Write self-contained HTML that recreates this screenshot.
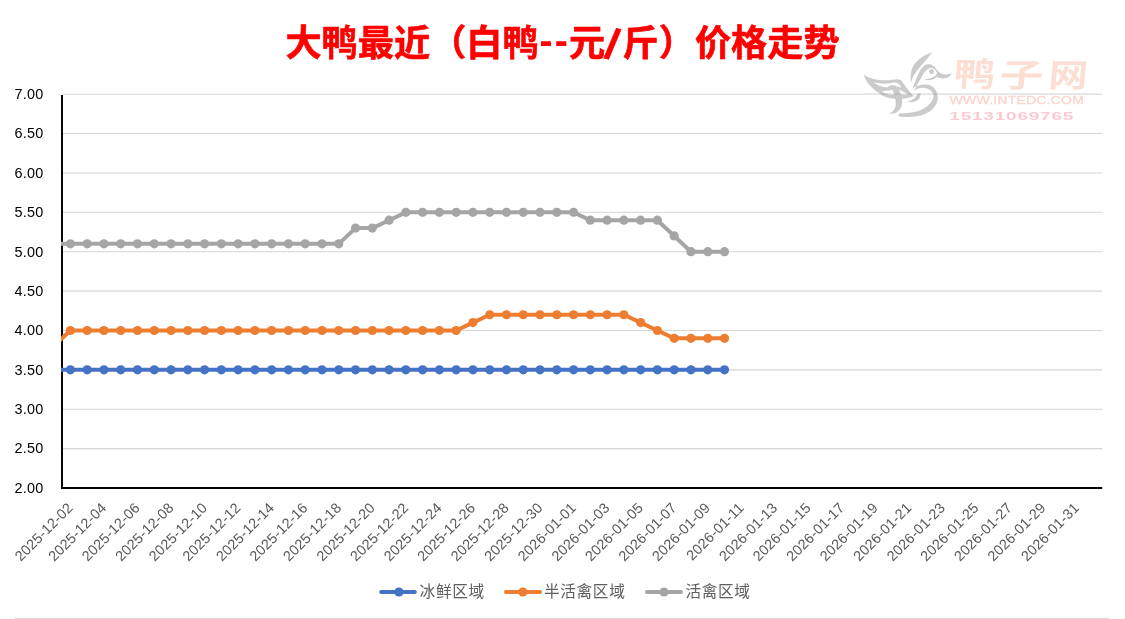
<!DOCTYPE html>
<html lang="zh-CN"><head><meta charset="utf-8"><title>大鸭最近（白鸭--元/斤）价格走势</title>
<style>html,body{margin:0;padding:0;background:#fff}body{width:1125px;height:619px;overflow:hidden}svg{display:block}.yl{font-family:"Liberation Sans",sans-serif;font-size:14.4px;fill:#000;letter-spacing:0.3px}.xl{font-family:"Liberation Sans",sans-serif;font-size:14.4px;fill:#595959;letter-spacing:0.15px}.lg{font-family:"Liberation Sans","Noto Sans CJK SC",sans-serif;font-size:15.7px;fill:#5e5e5e;letter-spacing:0.6px}.tt{font-family:"Liberation Sans","Noto Sans CJK SC",sans-serif;font-weight:bold;font-size:36.2px;fill:#ff0000}</style></head><body>
<svg width="1125" height="619" viewBox="0 0 1125 619">
<rect width="1125" height="619" fill="#fff"/>
<line x1="62.0" x2="1102.2" y1="448.62" y2="448.62" stroke="#d6d6d6" stroke-width="1.05"/>
<line x1="62.0" x2="1102.2" y1="409.24" y2="409.24" stroke="#d6d6d6" stroke-width="1.05"/>
<line x1="62.0" x2="1102.2" y1="369.86" y2="369.86" stroke="#d6d6d6" stroke-width="1.05"/>
<line x1="62.0" x2="1102.2" y1="330.48" y2="330.48" stroke="#d6d6d6" stroke-width="1.05"/>
<line x1="62.0" x2="1102.2" y1="291.10" y2="291.10" stroke="#d6d6d6" stroke-width="1.05"/>
<line x1="62.0" x2="1102.2" y1="251.72" y2="251.72" stroke="#d6d6d6" stroke-width="1.05"/>
<line x1="62.0" x2="1102.2" y1="212.34" y2="212.34" stroke="#d6d6d6" stroke-width="1.05"/>
<line x1="62.0" x2="1102.2" y1="172.96" y2="172.96" stroke="#d6d6d6" stroke-width="1.05"/>
<line x1="62.0" x2="1102.2" y1="133.58" y2="133.58" stroke="#d6d6d6" stroke-width="1.05"/>
<line x1="62.0" x2="863" y1="94.20" y2="94.20" stroke="#d6d6d6" stroke-width="1.05"/>
<line x1="863" x2="1093" y1="94.05" y2="94.05" stroke="#bdbdbd" stroke-width="0.7"/>
<line x1="1093" x2="1102.2" y1="94.20" y2="94.20" stroke="#d6d6d6" stroke-width="1.05"/>
<g id="wm">
<g opacity="0.42" fill="#858585">
<g transform="translate(860 70) scale(0.0808)">
<path fill-rule="evenodd" d="M45,55 C100,100 200,128 330,128 C400,126 460,100 505,125 C545,170 600,265 668,325 C600,348 500,362 440,356 C340,350 285,325 255,300 C180,245 80,180 45,55 Z M165,155 C235,200 300,222 345,212 C352,185 440,182 455,205 C475,207 492,212 510,216 C495,168 452,150 405,158 C320,176 250,172 165,155 Z M270,262 C320,260 370,250 405,244 C416,265 422,287 427,306 C375,310 322,298 270,262 Z M482,240 C520,258 557,278 595,300 C557,310 520,310 497,304 C496,280 490,260 482,240 Z"/>
<path d="M400,250 C430,300 450,380 440,450 C425,500 400,525 362,540 C420,548 480,520 510,460 C535,400 520,320 485,255 Z"/>
</g>
<g transform="translate(895 46) scale(0.1227)">
<path d="M305,48 C230,75 150,125 133,205 C126,245 127,280 130,304 C138,268 148,245 160,228 C190,183 250,120 305,48 Z"/>
<path d="M345,200 C330,165 300,146 270,148 C230,150 204,195 182,245 C165,290 150,325 141,352 C175,318 230,308 280,318 C330,335 352,385 348,430 C340,500 280,555 180,572 C120,580 70,578 29,575 L34,550 C90,548 150,542 190,530 C260,505 310,455 314,410 C312,370 280,346 235,340 C200,338 170,348 150,372 C178,330 198,280 222,245 C240,208 265,182 293,180 C315,178 330,194 338,212 C345,222 340,232 332,238 C310,260 270,270 236,270 C275,288 320,272 345,250 C355,258 370,265 395,264 C430,262 455,245 462,220 C445,228 430,232 410,232 C380,232 365,215 345,200 Z"/>
<path d="M207,380 C218,425 180,465 100,457 C145,442 172,420 184,392 Z"/>
<circle cx="298" cy="210" r="20"/>
</g>
</g>
<g opacity="0.27">
<g opacity="0.85" font-family='"Liberation Sans","Noto Sans CJK SC",sans-serif' font-weight="bold" font-size="32.5" fill="#f2703f">
<text transform="translate(952.8 86.3) skewX(-5) scale(1.278 1.02)">鸭</text>
<text transform="translate(998.8 86.5) skewX(-5) scale(1.344 1)">子</text>
<text transform="translate(1047.7 86.7) skewX(-5) scale(1.205 1)">网</text>
</g>
<text transform="translate(949.6 103.8) scale(1.3 1)" font-family='"Liberation Sans",sans-serif' font-size="10.8" fill="#f0603c" stroke="#f0603c" stroke-width="0.3" letter-spacing="0.15">WWW.INTEDC.COM</text>
<text transform="translate(949.3 119.7) scale(1.645 1)" font-family='"Liberation Sans",sans-serif' font-weight="bold" font-size="11.6" fill="#f53a4c" letter-spacing="0.45">15131069765</text>
</g>
</g>

<line x1="62.0" x2="62.0" y1="95" y2="489.1" stroke="#000" stroke-width="1.95"/>
<line x1="61" x2="1102.2" y1="488.0" y2="488.0" stroke="#000" stroke-width="2.0"/>
<text class="yl" x="43.6" y="492.80" text-anchor="end">2.00</text>
<text class="yl" x="43.6" y="453.42" text-anchor="end">2.50</text>
<text class="yl" x="43.6" y="414.04" text-anchor="end">3.00</text>
<text class="yl" x="43.6" y="374.66" text-anchor="end">3.50</text>
<text class="yl" x="43.6" y="335.28" text-anchor="end">4.00</text>
<text class="yl" x="43.6" y="295.90" text-anchor="end">4.50</text>
<text class="yl" x="43.6" y="256.52" text-anchor="end">5.00</text>
<text class="yl" x="43.6" y="217.14" text-anchor="end">5.50</text>
<text class="yl" x="43.6" y="177.76" text-anchor="end">6.00</text>
<text class="yl" x="43.6" y="138.38" text-anchor="end">6.50</text>
<text class="yl" x="43.6" y="99.00" text-anchor="end">7.00</text>
<text class="xl" text-anchor="end" transform="translate(73.80 508.8) rotate(-45)">2025-12-02</text>
<text class="xl" text-anchor="end" transform="translate(107.34 508.8) rotate(-45)">2025-12-04</text>
<text class="xl" text-anchor="end" transform="translate(140.89 508.8) rotate(-45)">2025-12-06</text>
<text class="xl" text-anchor="end" transform="translate(174.43 508.8) rotate(-45)">2025-12-08</text>
<text class="xl" text-anchor="end" transform="translate(207.98 508.8) rotate(-45)">2025-12-10</text>
<text class="xl" text-anchor="end" transform="translate(241.52 508.8) rotate(-45)">2025-12-12</text>
<text class="xl" text-anchor="end" transform="translate(275.06 508.8) rotate(-45)">2025-12-14</text>
<text class="xl" text-anchor="end" transform="translate(308.61 508.8) rotate(-45)">2025-12-16</text>
<text class="xl" text-anchor="end" transform="translate(342.15 508.8) rotate(-45)">2025-12-18</text>
<text class="xl" text-anchor="end" transform="translate(375.70 508.8) rotate(-45)">2025-12-20</text>
<text class="xl" text-anchor="end" transform="translate(409.24 508.8) rotate(-45)">2025-12-22</text>
<text class="xl" text-anchor="end" transform="translate(442.78 508.8) rotate(-45)">2025-12-24</text>
<text class="xl" text-anchor="end" transform="translate(476.33 508.8) rotate(-45)">2025-12-26</text>
<text class="xl" text-anchor="end" transform="translate(509.87 508.8) rotate(-45)">2025-12-28</text>
<text class="xl" text-anchor="end" transform="translate(543.42 508.8) rotate(-45)">2025-12-30</text>
<text class="xl" text-anchor="end" transform="translate(576.96 508.8) rotate(-45)">2026-01-01</text>
<text class="xl" text-anchor="end" transform="translate(610.50 508.8) rotate(-45)">2026-01-03</text>
<text class="xl" text-anchor="end" transform="translate(644.05 508.8) rotate(-45)">2026-01-05</text>
<text class="xl" text-anchor="end" transform="translate(677.59 508.8) rotate(-45)">2026-01-07</text>
<text class="xl" text-anchor="end" transform="translate(711.14 508.8) rotate(-45)">2026-01-09</text>
<text class="xl" text-anchor="end" transform="translate(744.68 508.8) rotate(-45)">2026-01-11</text>
<text class="xl" text-anchor="end" transform="translate(778.22 508.8) rotate(-45)">2026-01-13</text>
<text class="xl" text-anchor="end" transform="translate(811.77 508.8) rotate(-45)">2026-01-15</text>
<text class="xl" text-anchor="end" transform="translate(845.31 508.8) rotate(-45)">2026-01-17</text>
<text class="xl" text-anchor="end" transform="translate(878.86 508.8) rotate(-45)">2026-01-19</text>
<text class="xl" text-anchor="end" transform="translate(912.40 508.8) rotate(-45)">2026-01-21</text>
<text class="xl" text-anchor="end" transform="translate(945.94 508.8) rotate(-45)">2026-01-23</text>
<text class="xl" text-anchor="end" transform="translate(979.49 508.8) rotate(-45)">2026-01-25</text>
<text class="xl" text-anchor="end" transform="translate(1013.03 508.8) rotate(-45)">2026-01-27</text>
<text class="xl" text-anchor="end" transform="translate(1046.58 508.8) rotate(-45)">2026-01-29</text>
<text class="xl" text-anchor="end" transform="translate(1080.12 508.8) rotate(-45)">2026-01-31</text>
<defs><clipPath id="pc"><rect x="60.9" y="80" width="1060" height="420"/></clipPath></defs>
<polyline clip-path="url(#pc)" fill="none" stroke="#4472c4" stroke-width="4" stroke-linejoin="round" stroke-linecap="round" points="53.6,369.86 70.40,369.86 87.17,369.86 103.94,369.86 120.72,369.86 137.49,369.86 154.26,369.86 171.03,369.86 187.80,369.86 204.58,369.86 221.35,369.86 238.12,369.86 254.89,369.86 271.66,369.86 288.44,369.86 305.21,369.86 321.98,369.86 338.75,369.86 355.52,369.86 372.30,369.86 389.07,369.86 405.84,369.86 422.61,369.86 439.38,369.86 456.16,369.86 472.93,369.86 489.70,369.86 506.47,369.86 523.24,369.86 540.02,369.86 556.79,369.86 573.56,369.86 590.33,369.86 607.10,369.86 623.88,369.86 640.65,369.86 657.42,369.86 674.19,369.86 690.96,369.86 707.74,369.86 724.51,369.86"/>
<circle cx="70.40" cy="369.86" r="4.6" fill="#4472c4"/>
<circle cx="87.17" cy="369.86" r="4.6" fill="#4472c4"/>
<circle cx="103.94" cy="369.86" r="4.6" fill="#4472c4"/>
<circle cx="120.72" cy="369.86" r="4.6" fill="#4472c4"/>
<circle cx="137.49" cy="369.86" r="4.6" fill="#4472c4"/>
<circle cx="154.26" cy="369.86" r="4.6" fill="#4472c4"/>
<circle cx="171.03" cy="369.86" r="4.6" fill="#4472c4"/>
<circle cx="187.80" cy="369.86" r="4.6" fill="#4472c4"/>
<circle cx="204.58" cy="369.86" r="4.6" fill="#4472c4"/>
<circle cx="221.35" cy="369.86" r="4.6" fill="#4472c4"/>
<circle cx="238.12" cy="369.86" r="4.6" fill="#4472c4"/>
<circle cx="254.89" cy="369.86" r="4.6" fill="#4472c4"/>
<circle cx="271.66" cy="369.86" r="4.6" fill="#4472c4"/>
<circle cx="288.44" cy="369.86" r="4.6" fill="#4472c4"/>
<circle cx="305.21" cy="369.86" r="4.6" fill="#4472c4"/>
<circle cx="321.98" cy="369.86" r="4.6" fill="#4472c4"/>
<circle cx="338.75" cy="369.86" r="4.6" fill="#4472c4"/>
<circle cx="355.52" cy="369.86" r="4.6" fill="#4472c4"/>
<circle cx="372.30" cy="369.86" r="4.6" fill="#4472c4"/>
<circle cx="389.07" cy="369.86" r="4.6" fill="#4472c4"/>
<circle cx="405.84" cy="369.86" r="4.6" fill="#4472c4"/>
<circle cx="422.61" cy="369.86" r="4.6" fill="#4472c4"/>
<circle cx="439.38" cy="369.86" r="4.6" fill="#4472c4"/>
<circle cx="456.16" cy="369.86" r="4.6" fill="#4472c4"/>
<circle cx="472.93" cy="369.86" r="4.6" fill="#4472c4"/>
<circle cx="489.70" cy="369.86" r="4.6" fill="#4472c4"/>
<circle cx="506.47" cy="369.86" r="4.6" fill="#4472c4"/>
<circle cx="523.24" cy="369.86" r="4.6" fill="#4472c4"/>
<circle cx="540.02" cy="369.86" r="4.6" fill="#4472c4"/>
<circle cx="556.79" cy="369.86" r="4.6" fill="#4472c4"/>
<circle cx="573.56" cy="369.86" r="4.6" fill="#4472c4"/>
<circle cx="590.33" cy="369.86" r="4.6" fill="#4472c4"/>
<circle cx="607.10" cy="369.86" r="4.6" fill="#4472c4"/>
<circle cx="623.88" cy="369.86" r="4.6" fill="#4472c4"/>
<circle cx="640.65" cy="369.86" r="4.6" fill="#4472c4"/>
<circle cx="657.42" cy="369.86" r="4.6" fill="#4472c4"/>
<circle cx="674.19" cy="369.86" r="4.6" fill="#4472c4"/>
<circle cx="690.96" cy="369.86" r="4.6" fill="#4472c4"/>
<circle cx="707.74" cy="369.86" r="4.6" fill="#4472c4"/>
<circle cx="724.51" cy="369.86" r="4.6" fill="#4472c4"/>
<polyline clip-path="url(#pc)" fill="none" stroke="#ed7d31" stroke-width="4" stroke-linejoin="round" stroke-linecap="round" points="53.6,346.23 70.40,330.48 87.17,330.48 103.94,330.48 120.72,330.48 137.49,330.48 154.26,330.48 171.03,330.48 187.80,330.48 204.58,330.48 221.35,330.48 238.12,330.48 254.89,330.48 271.66,330.48 288.44,330.48 305.21,330.48 321.98,330.48 338.75,330.48 355.52,330.48 372.30,330.48 389.07,330.48 405.84,330.48 422.61,330.48 439.38,330.48 456.16,330.48 472.93,322.60 489.70,314.73 506.47,314.73 523.24,314.73 540.02,314.73 556.79,314.73 573.56,314.73 590.33,314.73 607.10,314.73 623.88,314.73 640.65,322.60 657.42,330.48 674.19,338.36 690.96,338.36 707.74,338.36 724.51,338.36"/>
<circle cx="70.40" cy="330.48" r="4.6" fill="#ed7d31"/>
<circle cx="87.17" cy="330.48" r="4.6" fill="#ed7d31"/>
<circle cx="103.94" cy="330.48" r="4.6" fill="#ed7d31"/>
<circle cx="120.72" cy="330.48" r="4.6" fill="#ed7d31"/>
<circle cx="137.49" cy="330.48" r="4.6" fill="#ed7d31"/>
<circle cx="154.26" cy="330.48" r="4.6" fill="#ed7d31"/>
<circle cx="171.03" cy="330.48" r="4.6" fill="#ed7d31"/>
<circle cx="187.80" cy="330.48" r="4.6" fill="#ed7d31"/>
<circle cx="204.58" cy="330.48" r="4.6" fill="#ed7d31"/>
<circle cx="221.35" cy="330.48" r="4.6" fill="#ed7d31"/>
<circle cx="238.12" cy="330.48" r="4.6" fill="#ed7d31"/>
<circle cx="254.89" cy="330.48" r="4.6" fill="#ed7d31"/>
<circle cx="271.66" cy="330.48" r="4.6" fill="#ed7d31"/>
<circle cx="288.44" cy="330.48" r="4.6" fill="#ed7d31"/>
<circle cx="305.21" cy="330.48" r="4.6" fill="#ed7d31"/>
<circle cx="321.98" cy="330.48" r="4.6" fill="#ed7d31"/>
<circle cx="338.75" cy="330.48" r="4.6" fill="#ed7d31"/>
<circle cx="355.52" cy="330.48" r="4.6" fill="#ed7d31"/>
<circle cx="372.30" cy="330.48" r="4.6" fill="#ed7d31"/>
<circle cx="389.07" cy="330.48" r="4.6" fill="#ed7d31"/>
<circle cx="405.84" cy="330.48" r="4.6" fill="#ed7d31"/>
<circle cx="422.61" cy="330.48" r="4.6" fill="#ed7d31"/>
<circle cx="439.38" cy="330.48" r="4.6" fill="#ed7d31"/>
<circle cx="456.16" cy="330.48" r="4.6" fill="#ed7d31"/>
<circle cx="472.93" cy="322.60" r="4.6" fill="#ed7d31"/>
<circle cx="489.70" cy="314.73" r="4.6" fill="#ed7d31"/>
<circle cx="506.47" cy="314.73" r="4.6" fill="#ed7d31"/>
<circle cx="523.24" cy="314.73" r="4.6" fill="#ed7d31"/>
<circle cx="540.02" cy="314.73" r="4.6" fill="#ed7d31"/>
<circle cx="556.79" cy="314.73" r="4.6" fill="#ed7d31"/>
<circle cx="573.56" cy="314.73" r="4.6" fill="#ed7d31"/>
<circle cx="590.33" cy="314.73" r="4.6" fill="#ed7d31"/>
<circle cx="607.10" cy="314.73" r="4.6" fill="#ed7d31"/>
<circle cx="623.88" cy="314.73" r="4.6" fill="#ed7d31"/>
<circle cx="640.65" cy="322.60" r="4.6" fill="#ed7d31"/>
<circle cx="657.42" cy="330.48" r="4.6" fill="#ed7d31"/>
<circle cx="674.19" cy="338.36" r="4.6" fill="#ed7d31"/>
<circle cx="690.96" cy="338.36" r="4.6" fill="#ed7d31"/>
<circle cx="707.74" cy="338.36" r="4.6" fill="#ed7d31"/>
<circle cx="724.51" cy="338.36" r="4.6" fill="#ed7d31"/>
<polyline clip-path="url(#pc)" fill="none" stroke="#a5a5a5" stroke-width="4" stroke-linejoin="round" stroke-linecap="round" points="53.6,243.84 70.40,243.84 87.17,243.84 103.94,243.84 120.72,243.84 137.49,243.84 154.26,243.84 171.03,243.84 187.80,243.84 204.58,243.84 221.35,243.84 238.12,243.84 254.89,243.84 271.66,243.84 288.44,243.84 305.21,243.84 321.98,243.84 338.75,243.84 355.52,228.09 372.30,228.09 389.07,220.22 405.84,212.34 422.61,212.34 439.38,212.34 456.16,212.34 472.93,212.34 489.70,212.34 506.47,212.34 523.24,212.34 540.02,212.34 556.79,212.34 573.56,212.34 590.33,220.22 607.10,220.22 623.88,220.22 640.65,220.22 657.42,220.22 674.19,235.97 690.96,251.72 707.74,251.72 724.51,251.72"/>
<circle cx="70.40" cy="243.84" r="4.6" fill="#a5a5a5"/>
<circle cx="87.17" cy="243.84" r="4.6" fill="#a5a5a5"/>
<circle cx="103.94" cy="243.84" r="4.6" fill="#a5a5a5"/>
<circle cx="120.72" cy="243.84" r="4.6" fill="#a5a5a5"/>
<circle cx="137.49" cy="243.84" r="4.6" fill="#a5a5a5"/>
<circle cx="154.26" cy="243.84" r="4.6" fill="#a5a5a5"/>
<circle cx="171.03" cy="243.84" r="4.6" fill="#a5a5a5"/>
<circle cx="187.80" cy="243.84" r="4.6" fill="#a5a5a5"/>
<circle cx="204.58" cy="243.84" r="4.6" fill="#a5a5a5"/>
<circle cx="221.35" cy="243.84" r="4.6" fill="#a5a5a5"/>
<circle cx="238.12" cy="243.84" r="4.6" fill="#a5a5a5"/>
<circle cx="254.89" cy="243.84" r="4.6" fill="#a5a5a5"/>
<circle cx="271.66" cy="243.84" r="4.6" fill="#a5a5a5"/>
<circle cx="288.44" cy="243.84" r="4.6" fill="#a5a5a5"/>
<circle cx="305.21" cy="243.84" r="4.6" fill="#a5a5a5"/>
<circle cx="321.98" cy="243.84" r="4.6" fill="#a5a5a5"/>
<circle cx="338.75" cy="243.84" r="4.6" fill="#a5a5a5"/>
<circle cx="355.52" cy="228.09" r="4.6" fill="#a5a5a5"/>
<circle cx="372.30" cy="228.09" r="4.6" fill="#a5a5a5"/>
<circle cx="389.07" cy="220.22" r="4.6" fill="#a5a5a5"/>
<circle cx="405.84" cy="212.34" r="4.6" fill="#a5a5a5"/>
<circle cx="422.61" cy="212.34" r="4.6" fill="#a5a5a5"/>
<circle cx="439.38" cy="212.34" r="4.6" fill="#a5a5a5"/>
<circle cx="456.16" cy="212.34" r="4.6" fill="#a5a5a5"/>
<circle cx="472.93" cy="212.34" r="4.6" fill="#a5a5a5"/>
<circle cx="489.70" cy="212.34" r="4.6" fill="#a5a5a5"/>
<circle cx="506.47" cy="212.34" r="4.6" fill="#a5a5a5"/>
<circle cx="523.24" cy="212.34" r="4.6" fill="#a5a5a5"/>
<circle cx="540.02" cy="212.34" r="4.6" fill="#a5a5a5"/>
<circle cx="556.79" cy="212.34" r="4.6" fill="#a5a5a5"/>
<circle cx="573.56" cy="212.34" r="4.6" fill="#a5a5a5"/>
<circle cx="590.33" cy="220.22" r="4.6" fill="#a5a5a5"/>
<circle cx="607.10" cy="220.22" r="4.6" fill="#a5a5a5"/>
<circle cx="623.88" cy="220.22" r="4.6" fill="#a5a5a5"/>
<circle cx="640.65" cy="220.22" r="4.6" fill="#a5a5a5"/>
<circle cx="657.42" cy="220.22" r="4.6" fill="#a5a5a5"/>
<circle cx="674.19" cy="235.97" r="4.6" fill="#a5a5a5"/>
<circle cx="690.96" cy="251.72" r="4.6" fill="#a5a5a5"/>
<circle cx="707.74" cy="251.72" r="4.6" fill="#a5a5a5"/>
<circle cx="724.51" cy="251.72" r="4.6" fill="#a5a5a5"/>
<text class="tt" y="56" stroke="#ff0000" stroke-width="0.6"><tspan x="285.4">大鸭最近（白鸭</tspan><tspan x="539.4" font-size="39" dy="-1.6" stroke-width="0.2">-</tspan><tspan x="554.8" font-size="39" stroke-width="0.2">-</tspan><tspan x="569" dy="1.6">元</tspan><tspan x="603.6" font-size="42.6" rotate="12" dy="1.3">/</tspan><tspan x="622.5" rotate="0" dy="-1.3">斤）价格走势</tspan></text>
<line x1="381.2" x2="414.8" y1="592" y2="592" stroke="#4472c4" stroke-width="4" stroke-linecap="round"/>
<circle cx="398.9" cy="592" r="4.6" fill="#4472c4"/>
<text class="lg" x="419.6" y="596.6">冰鲜区域</text>
<line x1="506" x2="540" y1="592" y2="592" stroke="#ed7d31" stroke-width="4" stroke-linecap="round"/>
<circle cx="522.9" cy="592" r="4.6" fill="#ed7d31"/>
<text class="lg" x="544" y="596.6">半活禽区域</text>
<line x1="647" x2="681" y1="592" y2="592" stroke="#a5a5a5" stroke-width="4" stroke-linecap="round"/>
<circle cx="664" cy="592" r="4.6" fill="#a5a5a5"/>
<text class="lg" x="685.5" y="596.6">活禽区域</text>
<rect x="15" y="618" width="1094" height="1" fill="#d7d7d7"/>
</svg></body></html>
